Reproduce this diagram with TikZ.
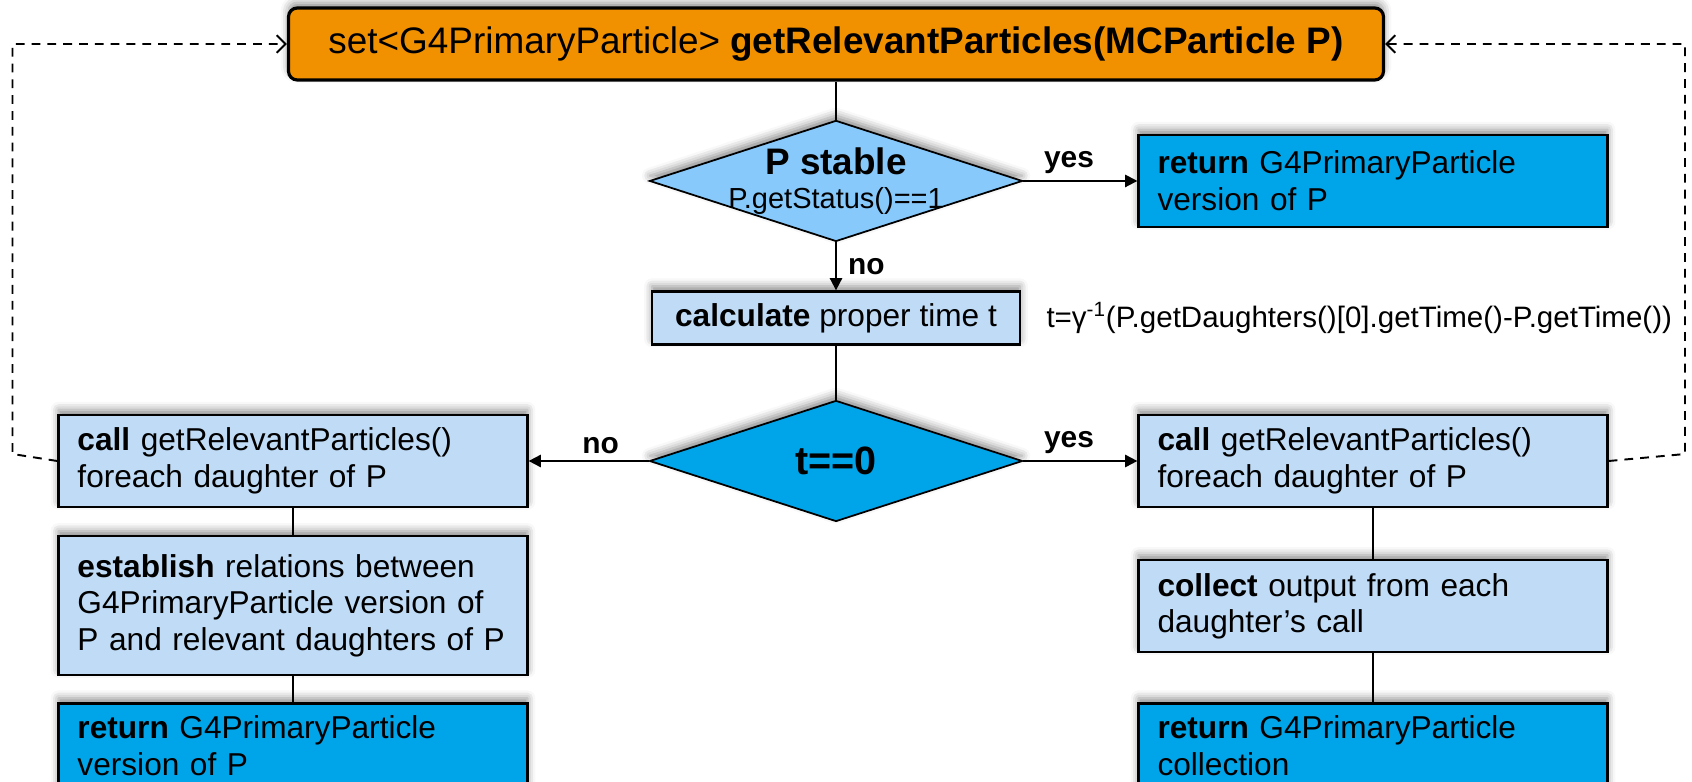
\documentclass[tikz,border=0pt]{standalone}
\usepackage{fontspec}
\setmainfont{Liberation Sans}
\usetikzlibrary{arrows.meta,positioning,shapes.geometric,shadows.blur}
\definecolor{headorange}{RGB}{242,145,0}
\definecolor{paleblue}{RGB}{135,201,251}
\definecolor{lightblue}{RGB}{191,219,245}
\definecolor{deepblue}{RGB}{0,165,233}

\begin{document}
\begin{tikzpicture}[
    node distance=1cm,
    font=\fontsize{18}{21}\selectfont,
    softshadow/.style={blur shadow={shadow xshift=0pt, shadow yshift=3pt, shadow blur radius=4.5pt, shadow opacity=45}},
    header/.style={draw, line width=1.8pt, rounded corners=5pt, fill=headorange, softshadow, minimum width=21.9cm, minimum height=1.44cm, font=\fontsize{21}{25}\selectfont},
    decision/.style={diamond, draw, line width=1pt, softshadow, minimum width=7.46cm, minimum height=2.42cm, inner sep=0pt},
    procbox/.style={draw, line width=1.3pt, fill=lightblue, softshadow, text width=8.62cm, inner xsep=0.38cm, align=left, minimum height=1.84cm},
    retbox/.style={procbox, fill=deepblue},
    calcbox/.style={draw, line width=1.3pt, fill=lightblue, softshadow, minimum width=7.36cm, minimum height=1.06cm, inner sep=0pt},
    arrow/.style={-{Triangle[length=7pt, width=7pt]}, line width=1.1pt},
    link/.style={line width=0.7pt},
    feedback/.style={-{Straight Barb[length=5pt, width=10pt]}, line width=1.1pt, dash pattern=on 5pt off 4pt},
    answer/.style={font=\bfseries\fontsize{17}{20}\selectfont}
  ]
    \useasboundingbox (0,0) rectangle (33.84,-15.62);

    \node[header] (top) at (16.72,-0.88) {set<G4PrimaryParticle> \textbf{getRelevantParticles(MCParticle P)}};
    \node[decision, fill=paleblue, below=0.76cm of top,
      label={[align=center]center:{\fontsize{21}{24}\selectfont\bfseries P stable\\[-2pt]\fontsize{16.5}{19}\selectfont P.getStatus()==1}}] (stable) {};
    \node[retbox, right=2.28cm of stable] (retP) {\textbf{return} G4PrimaryParticle\\version of P};
    \node[calcbox, below=0.96cm of stable] (calc) {\textbf{calculate} proper time t};
    \node[right=0.5cm of calc, inner sep=0pt, font=\fontsize{16.8}{19}\selectfont] (tau) {t=γ\textsuperscript{-1}(P.getDaughters()[0].getTime()-P.getTime())};
    \node[decision, fill=deepblue, below=1.08cm of calc, font=\fontsize{22.5}{26}\selectfont\bfseries] (zero) {t==0};

    % no branch
    \node[procbox, left=2.4cm of zero] (callL) {\textbf{call} getRelevantParticles()\\foreach daughter of P};
    \node[procbox, below=0.54cm of callL, minimum height=2.78cm] (relate) {\textbf{establish} relations between\\G4PrimaryParticle version of\\P and relevant daughters of P};
    \node[retbox, below=0.52cm of relate, text depth=26pt] (retL) {\textbf{return} G4PrimaryParticle\\version of P};

    % yes branch
    \node[procbox, right=2.28cm of zero] (callR) {\textbf{call} getRelevantParticles()\\foreach daughter of P};
    \node[procbox, below=1.02cm of callR] (collect) {\textbf{collect} output from each\\daughter’s call};
    \node[retbox, below=0.98cm of collect, text depth=26pt] (retR) {\textbf{return} G4PrimaryParticle\\collection};

    \coordinate (backL) at (0.25,-9.08);
    \coordinate (backR) at (33.70,-9.08);

    \draw[link] (top.south) -- (stable.north);
    \draw[arrow] (stable.east) -- node[answer, above, pos=0.4] {yes} (retP.west);
    \draw[arrow] (stable.south) -- node[answer, right=3pt, pos=0.5] {no} (calc.north);
    \draw[link] (calc.south) -- (zero.north);
    \draw[arrow] (zero.west) -- node[answer, above, pos=0.4] {no} (callL.east);
    \draw[arrow] (zero.east) -- node[answer, above, pos=0.4] {yes} (callR.west);
    \draw[link] (callL.south) -- (relate.north);
    \draw[link] (relate.south) -- (retL.north);
    \draw[link] (callR.south) -- (collect.north);
    \draw[link] (collect.south) -- (retR.north);

    % recursive calls
    \draw[feedback] (callL.west) -- (backL) |- (top.west);
    \draw[feedback] (callR.east) -- (backR) |- (top.east);
  \end{tikzpicture}
\end{document}
